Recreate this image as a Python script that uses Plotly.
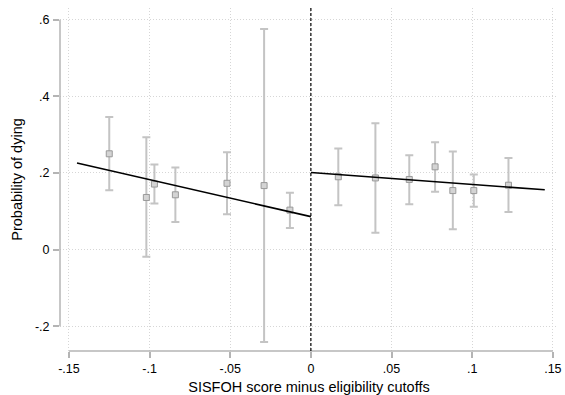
import plotly.graph_objects as go

# Binned means (x = score minus cutoff, y = probability of dying) with CI bounds
bin_x = [-0.125, -0.102, -0.097, -0.084, -0.052, -0.029, -0.013,
         0.017, 0.040, 0.061, 0.077, 0.088, 0.101, 0.1225]
bin_y = [0.250, 0.136, 0.171, 0.143, 0.173, 0.167, 0.103,
         0.190, 0.187, 0.183, 0.216, 0.154, 0.154, 0.168]
ci_hi = [0.346, 0.293, 0.222, 0.214, 0.254, 0.576, 0.148,
         0.264, 0.330, 0.246, 0.280, 0.256, 0.196, 0.239]
ci_lo = [0.155, -0.019, 0.120, 0.072, 0.092, -0.241, 0.056,
         0.116, 0.044, 0.118, 0.151, 0.053, 0.112, 0.098]

# Linear fits on each side of the cutoff
fit_left_x = [-0.145, 0.0]
fit_left_y = [0.226, 0.086]
fit_right_x = [0.0, 0.145]
fit_right_y = [0.201, 0.156]

x_ticks = [-0.15, -0.1, -0.05, 0, 0.05, 0.1, 0.15]
x_labels = ["-.15", "-.1", "-.05", "0", ".05", ".1", ".15"]
y_ticks = [-0.2, 0, 0.2, 0.4, 0.6]
y_labels = ["-.2", "0", ".2", ".4", ".6"]

err_plus = [h - y for h, y in zip(ci_hi, bin_y)]
err_minus = [y - l for l, y in zip(ci_lo, bin_y)]

fig = go.Figure()
fig.add_trace(go.Scatter(
    x=bin_x, y=bin_y, mode="markers",
    marker=dict(symbol="square", size=6, color="#d4d4d4",
                line=dict(color="#9a9a9a", width=1)),
    error_y=dict(type="data", symmetric=False, array=err_plus,
                 arrayminus=err_minus, color="#c4c4c4", thickness=2, width=4),
    showlegend=False))
fig.add_trace(go.Scatter(x=fit_left_x, y=fit_left_y, mode="lines",
                         line=dict(color="black", width=1.6), showlegend=False))
fig.add_trace(go.Scatter(x=fit_right_x, y=fit_right_y, mode="lines",
                         line=dict(color="black", width=1.6), showlegend=False))

axis_col = "#b4b4b4"
grid_col = "#d6d6d6"
font_family = "Liberation Sans, Arial, sans-serif"

fig.update_layout(
    width=565, height=395,
    margin=dict(l=60, r=3, t=8, b=41),
    paper_bgcolor="white", plot_bgcolor="white",
    font=dict(family=font_family, color="black", size=12),
    xaxis=dict(range=[-0.15553, 0.1532], tickvals=x_ticks, ticktext=x_labels,
               showgrid=True, gridcolor=grid_col, griddash="1px,2px", gridwidth=1,
               zeroline=False, showline=False, ticks="outside", ticklen=6,
               tickcolor=axis_col, tickwidth=1.5, tickfont=dict(size=12.5),
               ticklabeloverflow="allow",
               title=dict(text="SISFOH score minus eligibility cutoffs",
                          font=dict(size=14.5), standoff=6)),
    yaxis=dict(range=[-0.2647, 0.6305], tickvals=y_ticks, ticktext=y_labels,
               showgrid=True, gridcolor=grid_col, griddash="1px,2px", gridwidth=1,
               zeroline=False, showline=False, ticks="outside", ticklen=6,
               tickcolor=axis_col, tickwidth=1.5, tickfont=dict(size=12.5),
               ticklabelstandoff=1, ticklabeloverflow="allow",
               title=dict(text="Probability of dying",
                          font=dict(size=14.5), standoff=8)),
    shapes=[
        dict(type="line", xref="paper", yref="y", x0=0, x1=0,
             y0=-0.2, y1=0.6, line=dict(color=axis_col, width=1.5)),
        dict(type="line", xref="x", yref="paper", x0=-0.15, x1=0.15,
             y0=0, y1=0, line=dict(color=axis_col, width=1.5)),
        dict(type="line", xref="x", yref="paper", x0=0, x1=0,
             y0=0, y1=1, line=dict(color="black", width=1.2, dash="3px,2px")),
    ],
)

fig.write_html("out.html")
